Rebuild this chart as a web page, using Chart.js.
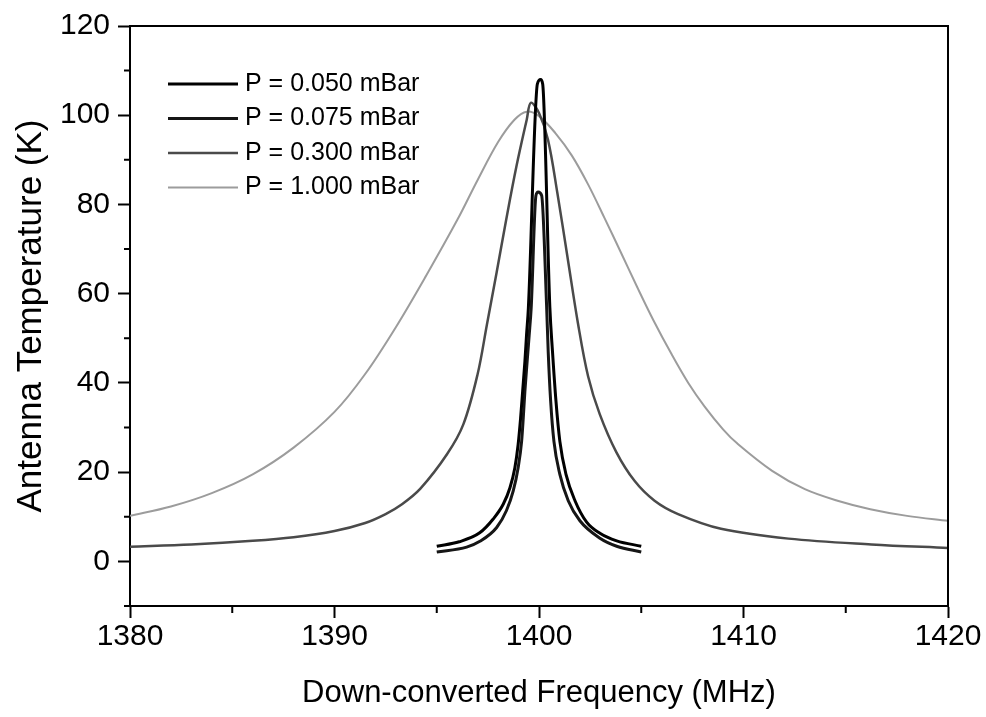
<!DOCTYPE html>
<html>
<head>
<meta charset="utf-8">
<script src="https://cdn.jsdelivr.net/npm/chart.js@4.4.0/dist/chart.umd.min.js"></script>
<style>
  html, body { margin: 0; padding: 0; background: #fff; }
  #wrap { width: 986px; height: 717px; }
</style>
</head>
<body>
<div id="wrap"><canvas id="antena" width="986" height="717"></canvas></div>
<script>
// P = 0.050 mBar
var freq050 = [1395.0, 1396.1, 1397.1, 1397.76, 1398.25, 1398.58, 1398.82, 1398.98, 1399.1, 1399.2, 1399.31, 1399.39, 1399.48, 1399.92, 1400.08, 1400.18, 1400.53, 1400.66, 1400.83, 1401.02, 1401.32, 1401.76, 1402.33, 1402.98, 1403.8, 1405.0];
var temp050 = [3.4, 4.4, 6.4, 9.5, 12.8, 16.5, 21.0, 26.2, 32.1, 38.1, 44.8, 50.7, 56.8, 107.0, 108.0, 107.0, 57.0, 47.0, 35.9, 26.9, 19.5, 13.6, 8.8, 6.3, 4.6, 3.4];
// P = 0.075 mBar
var freq075 = [1395.0, 1396.46, 1397.11, 1397.93, 1398.41, 1398.74, 1398.98, 1399.15, 1399.23, 1399.31, 1399.42, 1399.52, 1399.62, 1399.85, 1399.96, 1400.13, 1400.37, 1400.45, 1400.57, 1400.73, 1401.02, 1401.43, 1402.0, 1402.98, 1403.8, 1405.0];
var temp075 = [2.1, 3.2, 4.5, 7.6, 11.4, 15.8, 21.0, 26.9, 32.1, 38.1, 44.8, 50.7, 57.0, 82.0, 82.8, 82.0, 57.5, 47.0, 35.9, 26.9, 19.5, 13.6, 9.1, 5.2, 3.4, 2.1];
// P = 0.300 mBar
var freq300 = [1380, 1383, 1386, 1388, 1390, 1391.5, 1392.5, 1393.3, 1394.2, 1395.5, 1396.3, 1397.0, 1397.45, 1397.93, 1398.4, 1398.9, 1399.4, 1399.6, 1400.0, 1400.44, 1400.9, 1401.4, 1401.9, 1402.4, 1402.97, 1403.78, 1404.68, 1405.65, 1406.8, 1408.9, 1412.2, 1416.25, 1420];
var temp300 = [3.3, 3.8, 4.6, 5.4, 6.8, 8.6, 10.6, 12.8, 16.3, 24.0, 30.7, 42.0, 53.0, 64.8, 76.7, 88.6, 99.0, 102.8, 100.5, 94.5, 82.5, 68.0, 53.5, 41.5, 33.0, 24.5, 18.0, 13.6, 10.6, 7.3, 5.1, 3.8, 3.0];
// P = 1.000 mBar
var freq1000 = [1380, 1382, 1384, 1386, 1388, 1390, 1391.5, 1393, 1394.5, 1396, 1397, 1398, 1398.8, 1399.4, 1400.0, 1400.8, 1401.6, 1402.4, 1403.2, 1404.0, 1404.8, 1405.6, 1406.5, 1407.3, 1408.1, 1409.0, 1409.7, 1411.4, 1413.0, 1414.6, 1416.2, 1418.0, 1420];
var temp1000 = [10.2, 12.3, 15.3, 19.5, 25.5, 33.5, 42.0, 52.5, 64.2, 76.5, 85.5, 94.0, 99.0, 100.8, 99.8, 96.0, 91.0, 84.5, 77.0, 69.3, 61.5, 54.0, 46.3, 40.0, 34.7, 29.6, 26.4, 20.3, 16.2, 13.6, 11.7, 10.2, 9.1];

var etiquetas = ['P = 0.050 mBar', 'P = 0.075 mBar', 'P = 0.300 mBar', 'P = 1.000 mBar'];
var xTicks = [1380, 1390, 1400, 1410, 1420];
var xMinor = [1385, 1395, 1405, 1415];
var yTicks = [0, 20, 40, 60, 80, 100, 120];
var yMinor = [-10, 10, 30, 50, 70, 90, 110];

var fuente = "'Liberation Sans', Arial, sans-serif";

function pares(xs, ys) {
  return xs.map(function (x, i) { return { x: x, y: ys[i] }; });
}

// marco superior/derecho, ticks menores y leyenda dentro del area
var marco = {
  id: 'marco',
  afterDraw: function (chart) {
    var ctx = chart.ctx;
    var a = chart.chartArea;
    var sx = chart.scales.x;
    var sy = chart.scales.y;
    ctx.save();
    ctx.strokeStyle = '#000';
    ctx.lineWidth = 2;
    ctx.beginPath();
    ctx.moveTo(a.left, a.top);
    ctx.lineTo(a.right, a.top);
    ctx.lineTo(a.right, a.bottom);
    for (var i = 0; i < yMinor.length; i++) {
      var py = sy.getPixelForValue(yMinor[i]);
      ctx.moveTo(a.left - 6, py);
      ctx.lineTo(a.left, py);
    }
    for (var j = 0; j < xMinor.length; j++) {
      var px = sx.getPixelForValue(xMinor[j]);
      ctx.moveTo(px, a.bottom);
      ctx.lineTo(px, a.bottom + 7);
    }
    ctx.stroke();

    var ds = chart.data.datasets;
    ctx.font = '25px ' + fuente;
    ctx.textBaseline = 'middle';
    ctx.textAlign = 'left';
    ctx.fillStyle = '#000';
    for (var k = 0; k < ds.length; k++) {
      var ly = a.top + 58 + k * 34.5;
      ctx.strokeStyle = ds[k].borderColor;
      ctx.lineWidth = ds[k].borderWidth;
      ctx.beginPath();
      ctx.moveTo(a.left + 38, ly);
      ctx.lineTo(a.left + 108, ly);
      ctx.stroke();
      ctx.fillText(ds[k].label, a.left + 115, ly);
    }
    ctx.restore();
  }
};

function serie(label, xs, ys, color, ancho, suave) {
  var s = {
    label: label,
    data: pares(xs, ys),
    borderColor: color,
    borderWidth: ancho,
    pointRadius: 0,
    fill: false
  };
  if (suave) { s.tension = 0.35; } else { s.cubicInterpolationMode = 'monotone'; }
  return s;
}

var ctx = document.getElementById('antena');
new Chart(ctx, {
  type: 'line',
  data: {
    datasets: [
      serie(etiquetas[0], freq050, temp050, '#000000', 3, false),
      serie(etiquetas[1], freq075, temp075, '#161616', 3, false),
      serie(etiquetas[2], freq300, temp300, '#4a4a4a', 2.5, true),
      serie(etiquetas[3], freq1000, temp1000, '#9c9c9c', 2, true)
    ]
  },
  options: {
    responsive: false,
    animation: false,
    layout: { padding: { top: 22, right: 38, left: 0, bottom: 0 } },
    plugins: {
      legend: { display: false },
      tooltip: { enabled: false }
    },
    scales: {
      x: {
        type: 'linear',
        min: 1380,
        max: 1420,
        afterBuildTicks: function (scale) {
          scale.ticks = xTicks.map(function (v) { return { value: v }; });
        },
        afterFit: function (scale) { scale.height = 111; },
        grid: { drawOnChartArea: false, drawTicks: true, tickLength: 12, tickWidth: 2, tickColor: '#000' },
        border: { display: true, color: '#000', width: 2 },
        ticks: {
          padding: 1,
          color: '#000',
          maxRotation: 0,
          font: { family: fuente, size: 30 },
          callback: function (v) { return String(v); }
        },
        title: {
          display: true,
          text: 'Down-converted Frequency (MHz)',
          color: '#000',
          font: { family: fuente, size: 31 },
          padding: { top: 0, bottom: 5 }
        }
      },
      y: {
        min: -10,
        max: 120,
        afterBuildTicks: function (scale) {
          scale.ticks = yTicks.map(function (v) { return { value: v }; });
        },
        afterFit: function (scale) { scale.width = 130; },
        grid: { drawOnChartArea: false, drawTicks: true, tickLength: 12, tickWidth: 2, tickColor: '#000' },
        border: { display: true, color: '#000', width: 2 },
        ticks: {
          padding: 8,
          color: '#000',
          font: { family: fuente, size: 30 },
          callback: function (v) { return String(v); }
        },
        title: {
          display: true,
          text: 'Antenna Temperature (K)',
          color: '#000',
          font: { family: fuente, size: 35 },
          padding: { top: 10, bottom: 0 }
        }
      }
    }
  },
  plugins: [marco]
});
</script>
</body>
</html>
